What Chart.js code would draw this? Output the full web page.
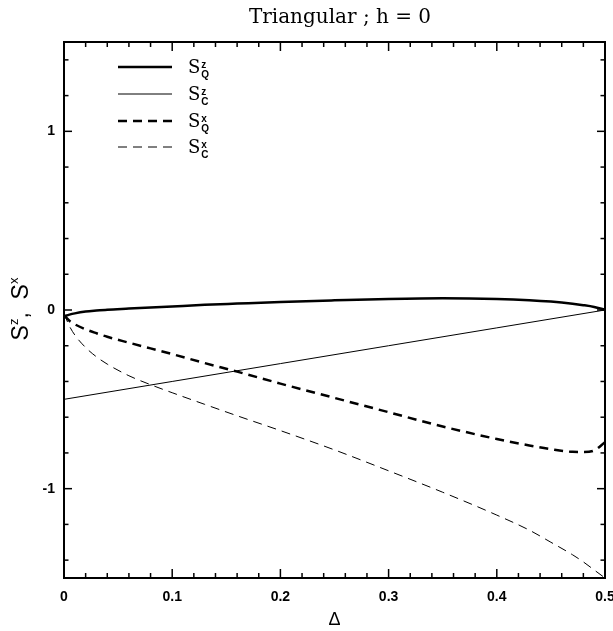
<!DOCTYPE html>
<html><head><meta charset="utf-8">
<script src="https://cdn.jsdelivr.net/npm/chart.js@4"></script>
<style>html,body{margin:0;padding:0;background:#fff}</style>
</head><body>
<canvas id="c" width="613" height="631"></canvas>
<script>
const titleText = 'Triangular ; h = 0';
const xTitle = 'Δ';
const xTickValues = [0, 0.1, 0.2, 0.3, 0.4, 0.5];
const xTickLabels = ['0', '0.1', '0.2', '0.3', '0.4', '0.5'];
const yTickValues = [-1, 0, 1];
const yTickLabels = ['-1', '0', '1'];

const delta = [0, 0.005, 0.01, 0.02, 0.03, 0.04, 0.06, 0.08, 0.1, 0.13, 0.16, 0.2, 0.25, 0.3, 0.35, 0.4, 0.43, 0.45, 0.47, 0.48, 0.49, 0.5];
const sQz = [-0.035, -0.026, -0.019, -0.009, -0.003, 0.002, 0.008, 0.014, 0.02, 0.029, 0.036, 0.045, 0.054, 0.062, 0.066, 0.062, 0.055, 0.047, 0.035, 0.027, 0.017, 0.002];
const sQx = [-0.03, -0.06, -0.08, -0.108, -0.13, -0.15, -0.183, -0.215, -0.247, -0.297, -0.345, -0.412, -0.492, -0.572, -0.652, -0.722, -0.758, -0.779, -0.794, -0.795, -0.786, -0.74];
const sCx = [-0.02, -0.09, -0.14, -0.21, -0.262, -0.303, -0.368, -0.418, -0.463, -0.528, -0.592, -0.675, -0.783, -0.9, -1.02, -1.148, -1.232, -1.3, -1.37, -1.41, -1.455, -1.5];
const sCzDelta = [0, 0.1, 0.2, 0.3, 0.4, 0.5];
const sCz = [-0.5, -0.4, -0.3, -0.2, -0.1, 0.0];

const seriesBase = ['S', 'S', 'S', 'S'];
const seriesSup = ['z', 'z', 'x', 'x'];
const seriesSub = ['Q', 'C', 'Q', 'C'];

function pts(xs, ys) { return xs.map((x, i) => ({ x: x, y: ys[i] })); }

const SANS = '"Liberation Sans", Arial, sans-serif';
const SERIF = '"DejaVu Serif", serif';

const decor = {
  id: 'decor',
  afterDraw(chart) {
    const ctx = chart.ctx;
    const a = chart.chartArea;
    const xs = chart.scales.x, ys = chart.scales.y;
    ctx.save();
    ctx.strokeStyle = '#000';
    ctx.lineWidth = 1.5;
    const tick = (x1, y1, x2, y2) => { ctx.beginPath(); ctx.moveTo(x1, y1); ctx.lineTo(x2, y2); ctx.stroke(); };
    for (let k = 1; k < 25; k++) {
      const v = k * 0.02;
      const px = xs.getPixelForValue(v);
      const len = (k % 5 === 0) ? 9 : 5;
      tick(px, a.bottom, px, a.bottom - len);
      tick(px, a.top, px, a.top + len);
    }
    for (let k = -7; k <= 7; k++) {
      const v = k * 0.2;
      const py = ys.getPixelForValue(v);
      const len = (k % 5 === 0) ? 8 : 4.5;
      tick(a.left, py, a.left + len, py);
      tick(a.right, py, a.right - len, py);
    }
    ctx.lineWidth = 2;
    ctx.strokeRect(a.left, a.top, a.right - a.left, a.bottom - a.top);

    ctx.fillStyle = '#000';
    ctx.font = '20px ' + SERIF;
    ctx.textAlign = 'center';
    ctx.textBaseline = 'alphabetic';
    ctx.fillText(titleText, 340, 23);

    ctx.save();
    ctx.translate(28, 309);
    ctx.rotate(-Math.PI / 2);
    ctx.textAlign = 'left';
    const big = '23px ' + SANS, small = '13px ' + SANS;
    const parts = [['S', big, 0], ['z', small, -10], [',  ', big, 0], ['S', big, 0], ['x', small, -10]];
    let total = 0;
    parts.forEach(p => { ctx.font = p[1]; total += ctx.measureText(p[0]).width; });
    let cx = -total / 2;
    parts.forEach(p => { ctx.font = p[1]; ctx.fillText(p[0], cx, p[2]); cx += ctx.measureText(p[0]).width; });
    ctx.restore();

    const ly = [67, 94, 121, 147];
    chart.data.datasets.forEach((ds, i) => {
      ctx.lineWidth = ds.borderWidth;
      ctx.setLineDash(ds.borderDash || []);
      ctx.beginPath();
      ctx.moveTo(118, ly[i]);
      ctx.lineTo(172, ly[i]);
      ctx.stroke();
      ctx.setLineDash([]);
      ctx.textAlign = 'left';
      ctx.font = '18px ' + SERIF;
      ctx.fillText(seriesBase[i], 188, ly[i] + 6);
      const w = ctx.measureText(seriesBase[i]).width;
      ctx.font = 'bold 10px ' + SANS;
      ctx.fillText(seriesSup[i], 188 + w + 1, ly[i] + 1);
      ctx.fillText(seriesSub[i], 188 + w + 1, ly[i] + 11);
    });
    ctx.restore();
  }
};

const lineDs = (label, data, width, dash) => ({
  label: label, data: data, borderColor: '#000', backgroundColor: '#000',
  borderWidth: width, borderDash: dash, pointRadius: 0, fill: false,
  cubicInterpolationMode: 'monotone'
});

new Chart(document.getElementById('c'), {
  type: 'line',
  data: {
    datasets: [
      lineDs('S^z_Q', pts(delta, sQz), 2.5, []),
      lineDs('S^z_C', pts(sCzDelta, sCz), 1, []),
      lineDs('S^x_Q', pts(delta, sQx), 2.5, [9, 6]),
      lineDs('S^x_C', pts(delta, sCx), 1, [9, 6])
    ]
  },
  options: {
    responsive: false,
    animation: false,
    devicePixelRatio: 1,
    layout: { padding: { top: 42, right: 8, left: 0, bottom: 0 } },
    plugins: { legend: { display: false }, title: { display: false }, tooltip: { enabled: false } },
    scales: {
      x: {
        type: 'linear', min: 0, max: 0.5,
        grid: { display: false, drawTicks: false },
        border: { display: false },
        afterBuildTicks: s => { s.ticks = xTickValues.map(v => ({ value: v })); },
        afterFit: s => { s.height = 53; s.paddingRight = 0; s.paddingLeft = 0; },
        ticks: {
          color: '#000', padding: 11, maxRotation: 0, autoSkip: false,
          font: { family: SANS, size: 14, weight: 'bold' },
          callback: (v) => { const i = xTickValues.findIndex(t => Math.abs(t - v) < 1e-9); return i >= 0 ? xTickLabels[i] : ''; }
        },
        title: { display: true, text: xTitle, color: '#000', font: { family: SANS, size: 18 }, padding: { top: 0, bottom: 0 } }
      },
      y: {
        type: 'linear', min: -1.5, max: 1.5,
        grid: { display: false, drawTicks: false },
        border: { display: false },
        afterBuildTicks: s => { s.ticks = yTickValues.map(v => ({ value: v })); },
        afterFit: s => { s.width = 64; },
        ticks: {
          color: '#000', padding: 9, autoSkip: false,
          font: { family: SANS, size: 14, weight: 'bold' },
          callback: (v) => { const i = yTickValues.findIndex(t => Math.abs(t - v) < 1e-9); return i >= 0 ? yTickLabels[i] : ''; }
        }
      }
    }
  },
  plugins: [decor]
});
</script>
</body></html>
